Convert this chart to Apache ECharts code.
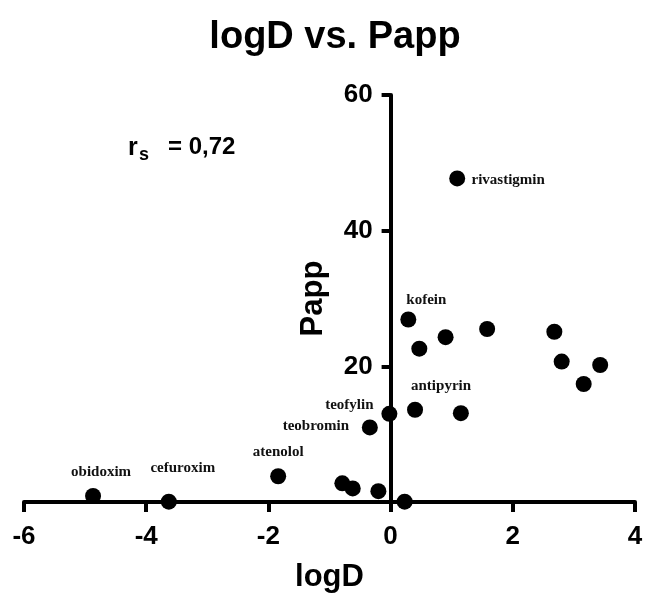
<!DOCTYPE html>
<html>
<head>
<meta charset="utf-8">
<script src="https://cdn.jsdelivr.net/npm/echarts@6/dist/echarts.min.js"></script>
<style>
html,body{margin:0;padding:0;background:#fff;}
#chart{width:646px;height:595px;}
</style>
</head>
<body>
<div id="chart"></div>
<script>
// ---- data ----
var compoundNames = ['obidoxim','cefuroxim','atenolol','teobromin','','','','','teofylin','antipyrin','','kofein','','','','','','','','rivastigmin'];
var logD = [-4.87, -3.63, -1.84, -0.34, -0.79, -0.62, -0.20, 0.23, -0.02, 0.40, 1.15, 0.29, 0.47, 0.90, 1.58, 2.68, 2.80, 3.43, 3.16, 1.09];
var papp = [0.9, 0.05, 3.8, 11.0, 2.75, 2.0, 1.6, 0.05, 13.0, 13.6, 13.1, 26.9, 22.6, 24.3, 25.5, 25.1, 20.7, 20.2, 17.4, 47.7];
var xTicks = [-6, -4, -2, 0, 2, 4];
var yTicks = [20, 40, 60];
var titleText = 'logD vs. Papp';
var xName = 'logD';
var yName = 'Papp';
var rsValue = '= 0,72';

// ---- layout / label placement (style only) ----
var GRID_LEFT = 24, GRID_RIGHT = 11, XMIN = -6, XMAX = 4;
var gridWidth = 646 - GRID_LEFT - GRID_RIGHT;
var yAxisOffset = -gridWidth * (0 - XMIN) / (XMAX - XMIN);

var labelOffsets = {
  obidoxim: [8, -24],
  cefuroxim: [14, -34],
  atenolol: [0, -24],
  teobromin: [-54, -1],
  teofylin: [-40, -9],
  antipyrin: [26, -24],
  kofein: [18, -19],
  rivastigmin: [51, 2]
};

var seriesData = logD.map(function (x, i) {
  var nm = compoundNames[i];
  var item = { value: [x, papp[i]], name: nm };
  if (nm) {
    item.label = { show: true, offset: labelOffsets[nm] };
  }
  return item;
});

var chart = echarts.init(document.getElementById('chart'), null, { renderer: 'canvas' });
var axisFont = 'Liberation Sans, Arial, sans-serif';
chart.setOption({
  animation: false,
  backgroundColor: '#ffffff',
  title: {
    text: titleText,
    left: 330,
    textAlign: 'center',
    top: 14,
    textStyle: { fontFamily: axisFont, fontWeight: 'bold', fontSize: 38, color: '#000' }
  },
  grid: { left: GRID_LEFT, right: GRID_RIGHT, top: 95, bottom: 93, containLabel: false, outerBoundsMode: 'none' },
  xAxis: {
    type: 'value',
    min: XMIN, max: XMAX, interval: 2,
    name: xName,
    nameLocation: 'middle',
    nameGap: 60,
    nameTextStyle: { fontFamily: axisFont, fontWeight: 'bold', fontSize: 31, color: '#000' },
    axisLine: { show: true, onZero: false, lineStyle: { color: '#000', width: 4 } },
    axisTick: { show: true, inside: false, length: 10, lineStyle: { color: '#000', width: 4 }, customValues: xTicks },
    axisLabel: { customValues: xTicks, fontFamily: axisFont, fontWeight: 'bold', fontSize: 26, color: '#000', margin: 22 },
    splitLine: { show: false }
  },
  yAxis: {
    type: 'value',
    min: 0, max: 60, interval: 20,
    position: 'left',
    offset: yAxisOffset,
    name: yName,
    nameLocation: 'middle',
    nameGap: 62,
    nameTextStyle: { fontFamily: axisFont, fontWeight: 'bold', fontSize: 31, color: '#000' },
    axisLine: { show: true, onZero: false, lineStyle: { color: '#000', width: 4 } },
    axisTick: { show: true, inside: false, length: 9, lineStyle: { color: '#000', width: 4 }, customValues: yTicks },
    axisLabel: { customValues: yTicks, fontFamily: axisFont, fontWeight: 'bold', fontSize: 26, color: '#000', margin: 18 },
    splitLine: { show: false }
  },
  series: [{
    type: 'scatter',
    symbol: 'circle',
    symbolSize: 16,
    itemStyle: { color: '#000', opacity: 1 },
    emphasis: { disabled: true },
    label: {
      show: false,
      position: 'inside',
      formatter: '{b}',
      fontFamily: 'Liberation Serif, Times New Roman, serif',
      fontWeight: 'bold',
      fontSize: 15,
      color: '#111',
      opacity: 1,
      align: 'center',
      verticalAlign: 'middle'
    },
    data: seriesData
  }],
  graphic: [
    { type: 'text', left: 128, top: 136, style: { text: 'r', font: 'bold 25px Liberation Sans, Arial, sans-serif', fill: '#000' } },
    { type: 'text', left: 139, top: 146, style: { text: 's', font: 'bold 18px Liberation Sans, Arial, sans-serif', fill: '#000' } },
    { type: 'text', left: 168, top: 135, style: { text: rsValue, font: 'bold 24px Liberation Sans, Arial, sans-serif', fill: '#000' } }
  ]
});
</script>
</body>
</html>
